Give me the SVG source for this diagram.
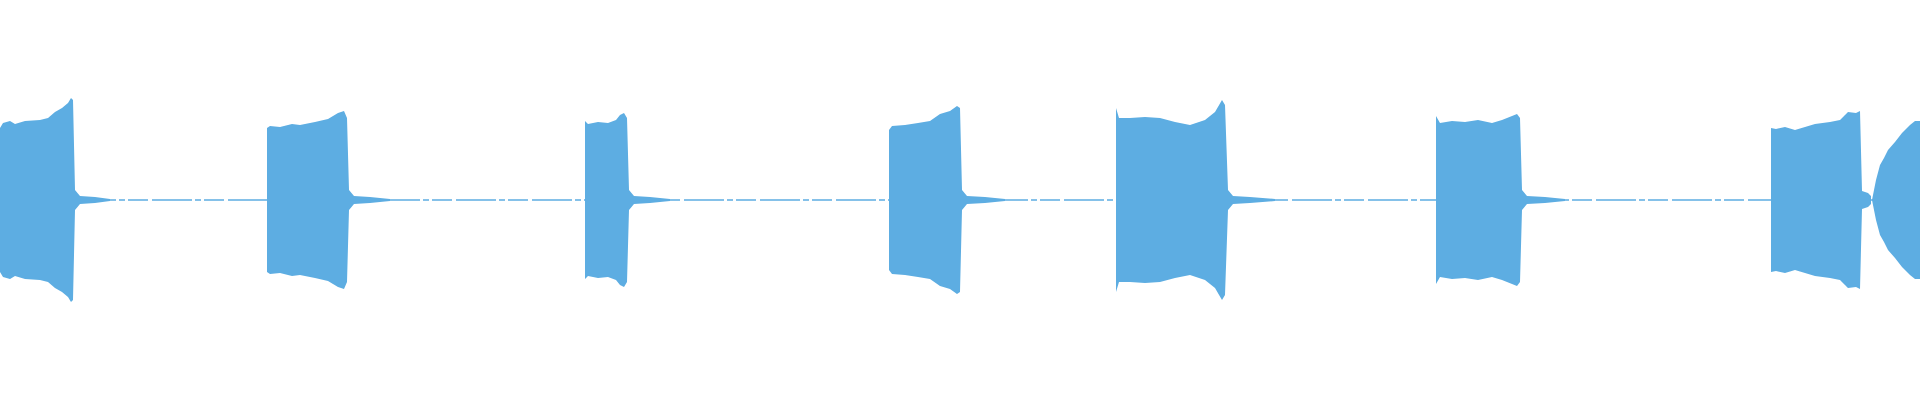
<svg xmlns="http://www.w3.org/2000/svg" width="1920" height="400" viewBox="0 0 1920 400">
<style>.w{fill:#5dade2}.l{stroke:#5dade2;stroke-width:1.5;fill:none}</style>
<rect width="1920" height="400" fill="#fff"/>
<line class="l" x1="0" y1="200" x2="1920" y2="200" stroke-dasharray="40 3 6 3 20 4"/>
<g id="bursts">
<path class="w" d="M0,128 L3,123 L10,121 L15,124 L25,121 L40,120 L48,118 L55,112 L62,108 L68,103 L71,98 L73,100 L75,190 L80,196 L95,197 L110,199 L110,201 L95,203 L80,204 L75,210 L73,300 L71,302 L68,297 L62,292 L55,288 L48,282 L40,280 L25,279 L15,276 L10,279 L3,277 L0,272 Z"/>
<path class="w" d="M267,128 L270,126 L280,127 L292,124 L300,125 L315,122 L328,119 L338,113 L344,111 L347,118 L349,190 L354,196 L370,197 L390,199 L390,201 L370,203 L354,204 L349,210 L347,282 L344,289 L338,287 L328,281 L315,278 L300,275 L292,276 L280,273 L270,274 L267,272 Z"/>
<path class="w" d="M585,121 L588,124 L598,122 L608,123 L616,120 L620,115 L624,113 L627,118 L629,190 L634,196 L650,197 L670,199 L670,201 L650,203 L634,204 L629,210 L627,282 L624,287 L620,285 L616,280 L608,277 L598,278 L588,276 L585,279 Z"/>
<path class="w" d="M889,130 L892,126 L905,125 L918,123 L930,121 L940,114 L950,111 L957,106 L960,108 L962,190 L967,196 L985,197 L1005,199 L1005,201 L985,203 L967,204 L962,210 L960,292 L957,294 L950,289 L940,286 L930,279 L918,277 L905,275 L892,274 L889,270 Z"/>
<path class="w" d="M1116,108 L1119,118 L1130,118 L1145,117 L1160,118 L1175,122 L1190,125 L1205,120 L1215,112 L1222,100 L1225,105 L1228,190 L1233,196 L1250,197 L1275,199 L1275,201 L1250,203 L1233,204 L1228,210 L1225,295 L1222,300 L1215,288 L1205,280 L1190,275 L1175,278 L1160,282 L1145,283 L1130,282 L1119,282 L1116,292 Z"/>
<path class="w" d="M1436,116 L1440,123 L1452,121 L1465,122 L1478,120 L1492,123 L1502,120 L1512,116 L1517,114 L1520,118 L1522,190 L1527,196 L1545,197 L1565,199 L1565,201 L1545,203 L1527,204 L1522,210 L1520,282 L1517,286 L1512,284 L1502,280 L1492,277 L1478,280 L1465,278 L1452,279 L1440,277 L1436,284 Z"/>
<path class="w" d="M1771,128 L1776,129 L1785,127 L1795,130 L1805,127 L1815,124 L1830,122 L1840,120 L1845,115 L1848,112 L1856,113 L1860,111 L1862,191 L1868,193 L1871,196 L1871,204 L1868,207 L1862,209 L1860,289 L1856,287 L1848,288 L1845,285 L1840,280 L1830,278 L1815,276 L1805,273 L1795,270 L1785,273 L1776,271 L1771,272 Z"/>
<path class="w" d="M1872,200 L1876,180 L1880,165 L1884,158 L1888,150 L1895,142 L1902,133 L1910,125 L1915,121 L1920,121 L1920,279 L1915,279 L1910,275 L1902,267 L1895,258 L1888,250 L1884,242 L1880,235 L1876,220 Z"/>
</g>
</svg>
